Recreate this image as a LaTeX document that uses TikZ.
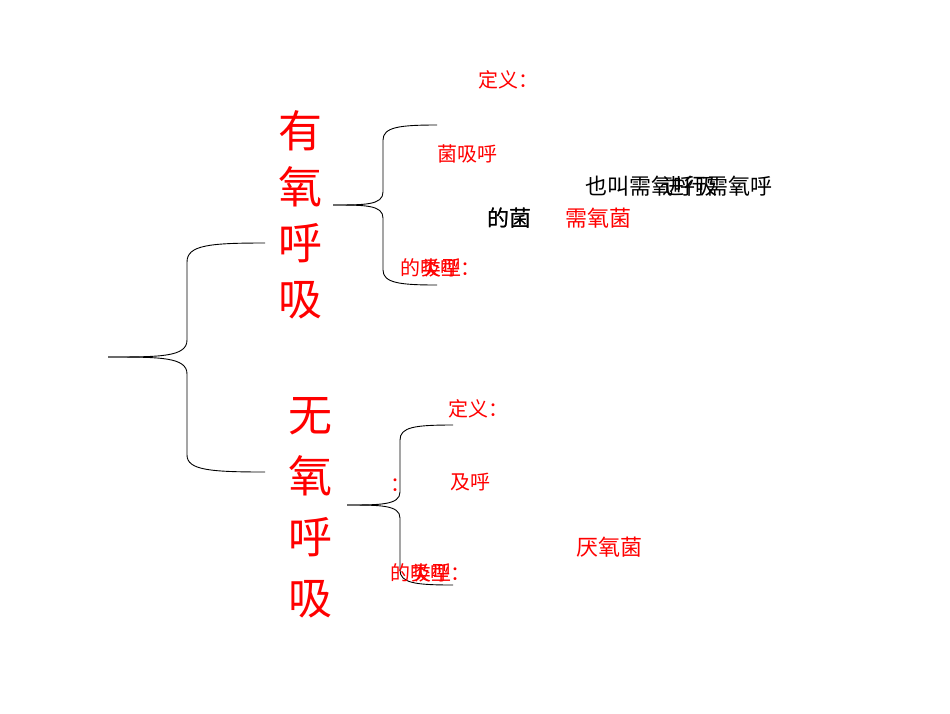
\documentclass[tikz,border=0pt]{standalone}
\usepackage{fontspec}
\newfontfamily\cjk{Noto Sans CJK SC}
\begin{document}
\begin{tikzpicture}[x=1pt,y=-1pt,
  br/.style={draw=black,line width=0.9pt},
  rt/.style={text=red,font=\cjk\fontsize{20}{20}\selectfont,inner sep=0pt},
  bt/.style={text=black,font=\cjk\fontsize{22}{22}\selectfont,inner sep=0pt},
  big/.style={text=red,font=\cjk\fontsize{44}{44}\selectfont,inner sep=0pt,align=center}]
\useasboundingbox (0,0) rectangle (950,713);
\coordinate (bt) at (108,357); \coordinate (bu) at (265,243); \coordinate (bd) at (265,472);
\draw[br] (bt) .. controls (160,357) and (187,357) .. (187,340) -- (187,262) .. controls (187,245) and (210,243) .. (bu);
\draw[br] (bt) .. controls (160,357) and (187,357) .. (187,374) -- (187,455) .. controls (187,470) and (210,472) .. (bd);
\coordinate (ut) at (333,205); \coordinate (uu) at (437,125); \coordinate (ud) at (437,285);
\draw[br] (ut) .. controls (365,205) and (383,205) .. (383,192) -- (383,140) .. controls (383,127) and (400,125) .. (uu);
\draw[br] (ut) .. controls (365,205) and (383,205) .. (383,218) -- (383,270) .. controls (383,283) and (400,285) .. (ud);
\coordinate (lt) at (347,505); \coordinate (lu) at (453,425); \coordinate (ld) at (453,585);
\draw[br] (lt) .. controls (380,505) and (400,505) .. (400,492) -- (400,440) .. controls (400,427) and (415,425) .. (lu);
\draw[br] (lt) .. controls (380,505) and (400,505) .. (400,518) -- (400,570) .. controls (400,583) and (415,585) .. (ld);
\node[big] (a) at (300,215) {有\\[12pt]氧\\[12pt]呼\\[12pt]吸};
\node[big] (b) at (310,508) {无\\[17pt]氧\\[17pt]呼\\[17pt]吸};
\node[rt,anchor=west] (d1) at (478,80) {定义：};
\node[rt,anchor=west] (t1) at (437,154) {菌吸呼};
\node[bt,anchor=west] (k1) at (585,186) {也叫需氧呼吸};
\node[bt,anchor=west] (k2) at (662,186) {进行需氧呼};
\node[bt,anchor=west] (k3) at (487,218) {的菌};
\node[bt,anchor=west] (k4) at (487.6,218) {的菌};
\node[rt,anchor=west,font=\cjk\fontsize{22}{22}\selectfont] (n1) at (565,218) {需氧菌};
\node[rt,anchor=west] (y1) at (400,268) {的吸呼：};
\node[rt,anchor=west] (y2) at (421,268) {类型};
\node[rt,anchor=west] (d2) at (448,409) {定义：};
\node[rt,anchor=west] (c2) at (390,485) {：};
\node[rt,anchor=west] (j2) at (450,482) {及呼};
\node[rt,anchor=west,font=\cjk\fontsize{22}{22}\selectfont] (n2) at (576,547) {厌氧菌};
\node[rt,anchor=west] (y3) at (390,573) {的吸呼：};
\node[rt,anchor=west] (y4) at (411,573) {类型};
\end{tikzpicture}
\end{document}
